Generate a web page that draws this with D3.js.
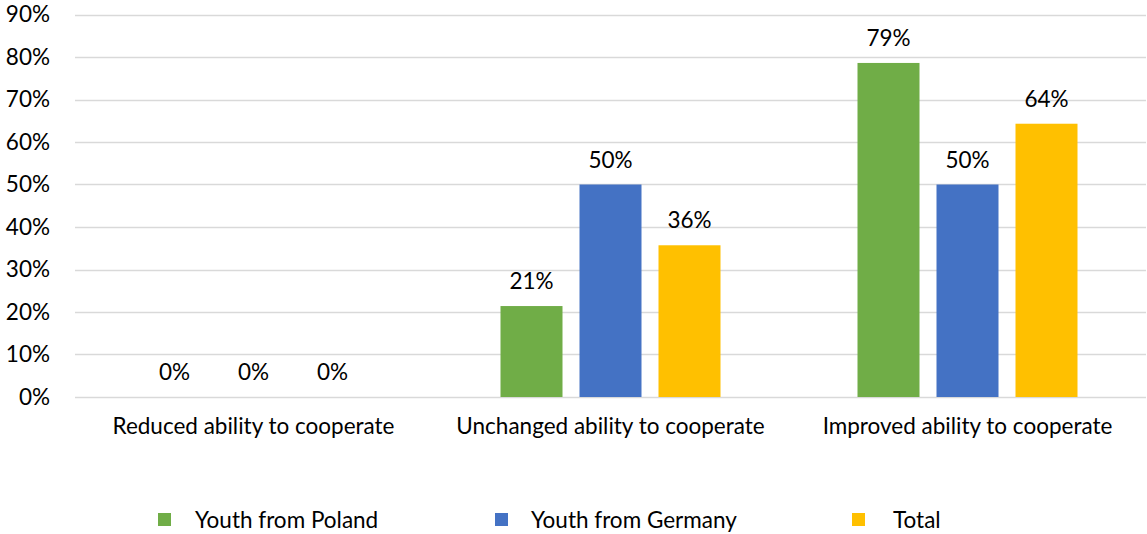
<!DOCTYPE html>
<html><head><meta charset="utf-8">
<script src="https://cdn.jsdelivr.net/npm/d3@7"></script>
<style>body{margin:0;background:#fff}svg{display:block}text{font-family:Lato,"Open Sans",sans-serif;fill:#000}</style>
</head><body><svg id="c" width="1147" height="534"></svg>
<script>
const categories = ["Reduced ability to cooperate","Unchanged ability to cooperate","Improved ability to cooperate"];
const seriesNames = ["Youth from Poland","Youth from Germany","Total"];
const poland = [0, 21.4, 78.6];
const germany = [0, 50, 50];
const total = [0, 35.7, 64.3];
const colors = ["#70AD47","#4472C4","#FFC000"];
const yTicks = [0,10,20,30,40,50,60,70,80,90];

(function(){
const series = [poland, germany, total];
const svg = d3.select("#c");
const mLeft = 75, mRight = 1146, mTop = 14.5, mBottom = 397;
const fs = 22.5;
const x = d3.scaleBand().domain(categories).range([mLeft, mRight]);
const y = d3.scaleLinear().domain([0,90]).range([mBottom, mTop]);
const barW = 62, gap = 17;
const inner = d3.scaleBand().domain(seriesNames).range([-(barW*1.5+gap), barW*1.5+gap]).paddingInner(gap/(barW+gap));

const grid = svg.append("g");
grid.selectAll("line").data(yTicks).join("line")
  .attr("x1", mLeft).attr("x2", mRight)
  .attr("y1", d=>Math.round(y(d))+0.5).attr("y2", d=>Math.round(y(d))+0.5)
  .attr("stroke","#d9d9d9").attr("stroke-width",1.5);
svg.append("g").selectAll("text").data(yTicks).join("text")
  .attr("x", 50).attr("y", d=>y(d)).attr("dy","0.35em").attr("text-anchor","end")
  .attr("font-size",fs).text(d=>d+"%");

categories.forEach((c,i)=>{
  const cx = x(c) + x.bandwidth()/2;
  series.forEach((s,j)=>{
    const bx = cx + inner(seriesNames[j]);
    svg.append("rect").attr("x", bx).attr("width", inner.bandwidth())
      .attr("y", y(s[i])).attr("height", y(0)-y(s[i])).attr("fill", colors[j]);
    svg.append("text").attr("x", bx + inner.bandwidth()/2).attr("y", y(s[i]) - 17)
      .attr("text-anchor","middle").attr("font-size",fs).text(Math.round(s[i])+"%");
  });
  svg.append("text").attr("x", cx).attr("y", 426).attr("dy","0.35em")
    .attr("text-anchor","middle").attr("font-size",fs).text(c);
});

const legX = [158, 495, 852];
const legTextX = [195, 531, 893];
seriesNames.forEach((n,j)=>{
  svg.append("rect").attr("x", legX[j]).attr("y", 513).attr("width",13).attr("height",13).attr("fill",colors[j]);
  svg.append("text").attr("x", legTextX[j]).attr("y", 520).attr("dy","0.35em").attr("font-size",fs).text(n);
});
})();
</script></body></html>
